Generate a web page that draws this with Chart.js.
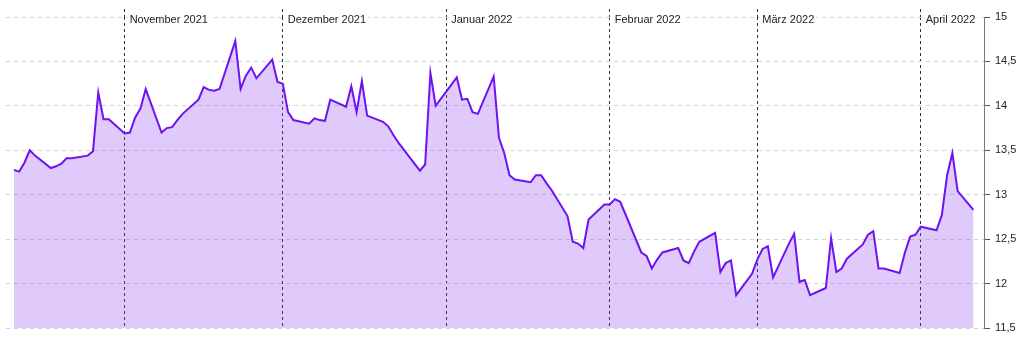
<!DOCTYPE html>
<html lang="de">
<head>
<meta charset="utf-8">
<title>Kursverlauf</title>
<script src="https://cdn.jsdelivr.net/npm/chart.js@4/dist/chart.umd.min.js"></script>
<style>
    html, body { margin: 0; padding: 0; background: #fff; }
    #wrap { width: 1024px; height: 351px; position: relative; }
</style>
</head>
<body>
<div id="wrap"><canvas id="priceChart"></canvas></div>
<script>
// Trading days (Oct 11 2021 - Apr 11 2022)
const tradeDates = [
    '2021-10-11', '2021-10-12', '2021-10-13', '2021-10-14', '2021-10-15',
    '2021-10-18', '2021-10-19', '2021-10-20', '2021-10-21', '2021-10-22',
    '2021-10-25', '2021-10-26', '2021-10-27', '2021-10-28', '2021-10-29',
    '2021-11-01', '2021-11-02', '2021-11-03', '2021-11-04', '2021-11-05',
    '2021-11-08', '2021-11-09', '2021-11-10', '2021-11-11', '2021-11-12',
    '2021-11-15', '2021-11-16', '2021-11-17', '2021-11-18', '2021-11-19',
    '2021-11-22', '2021-11-23', '2021-11-24', '2021-11-25', '2021-11-26',
    '2021-11-29', '2021-11-30', '2021-12-01', '2021-12-02', '2021-12-03',
    '2021-12-06', '2021-12-07', '2021-12-08', '2021-12-09', '2021-12-10',
    '2021-12-13', '2021-12-14', '2021-12-15', '2021-12-16', '2021-12-17',
    '2021-12-20', '2021-12-21', '2021-12-22', '2021-12-23',
    '2021-12-27', '2021-12-28', '2021-12-29', '2021-12-30',
    '2022-01-03', '2022-01-04', '2022-01-05', '2022-01-06', '2022-01-07',
    '2022-01-10', '2022-01-11', '2022-01-12', '2022-01-13', '2022-01-14',
    '2022-01-17', '2022-01-18', '2022-01-19', '2022-01-20', '2022-01-21',
    '2022-01-24', '2022-01-25', '2022-01-26', '2022-01-27', '2022-01-28',
    '2022-01-31', '2022-02-01', '2022-02-02', '2022-02-03', '2022-02-04',
    '2022-02-07', '2022-02-08', '2022-02-09', '2022-02-10', '2022-02-11',
    '2022-02-14', '2022-02-15', '2022-02-16', '2022-02-17', '2022-02-18',
    '2022-02-21', '2022-02-22', '2022-02-23', '2022-02-24', '2022-02-25',
    '2022-02-28', '2022-03-01', '2022-03-02', '2022-03-03', '2022-03-04',
    '2022-03-07', '2022-03-08', '2022-03-09', '2022-03-10', '2022-03-11',
    '2022-03-14', '2022-03-15', '2022-03-16', '2022-03-17', '2022-03-18',
    '2022-03-21', '2022-03-22', '2022-03-23', '2022-03-24', '2022-03-25',
    '2022-03-28', '2022-03-29', '2022-03-30', '2022-03-31', '2022-04-01',
    '2022-04-04', '2022-04-05', '2022-04-06', '2022-04-07', '2022-04-08',
    '2022-04-11'
];

// Closing prices
const closePrices = [
    13.28, 13.26, 13.36, 13.50, 13.44,
    13.30, 13.32, 13.35, 13.41, 13.41,
    13.44, 13.49, 14.15, 13.85, 13.85,
    13.69, 13.70, 13.87, 13.97, 14.19,
    13.70, 13.75, 13.76, 13.84, 13.91,
    14.07, 14.21, 14.18, 14.17, 14.19,
    14.73, 14.19, 14.34, 14.43, 14.31,
    14.52, 14.27, 14.25, 13.93, 13.84,
    13.80, 13.86, 13.84, 13.83, 14.07,
    13.99, 14.22, 13.93, 14.28, 13.89,
    13.82, 13.77, 13.67, 13.58,
    13.27, 13.34, 14.37, 14.00,
    14.32, 14.07, 14.08, 13.93, 13.91,
    14.33, 13.64, 13.47, 13.22, 13.17,
    13.14, 13.22, 13.22, 13.13, 13.05,
    12.76, 12.47, 12.45, 12.40, 12.72,
    12.89, 12.89, 12.95, 12.92, 12.78,
    12.35, 12.31, 12.17, 12.27, 12.35,
    12.40, 12.26, 12.23, 12.36, 12.47,
    12.57, 12.13, 12.23, 12.26, 11.87,
    12.11, 12.27, 12.39, 12.42, 12.07,
    12.45, 12.56, 12.02, 12.04, 11.87,
    11.95, 12.51, 12.13, 12.17, 12.28,
    12.44, 12.55, 12.59, 12.17, 12.17,
    12.12, 12.35, 12.53, 12.55, 12.64,
    12.60, 12.77, 13.22, 13.47, 13.04,
    12.83
];

// Month markers on the time axis
const monthStarts = ['2021-11-01', '2021-12-01', '2022-01-01', '2022-02-01', '2022-03-01', '2022-04-01'];
const monthLabels = ['November 2021', 'Dezember 2021', 'Januar 2022', 'Februar 2022', 'März 2022', 'April 2022'];

// Price axis
const yTicks = [11.5, 12, 12.5, 13, 13.5, 14, 14.5, 15];

// date string -> day number
function toDay(s) {
    const p = s.split('-');
    return Date.UTC(+p[0], +p[1] - 1, +p[2]) / 86400000;
}

const points = tradeDates.map((d, i) => ({ x: toDay(d), y: closePrices[i] }));
const monthDays = monthStarts.map(toDay);

Chart.defaults.font.family = 'Arial, "Liberation Sans", Helvetica, sans-serif';
Chart.defaults.font.size = 11;
Chart.defaults.color = '#222';

const ctx = document.getElementById('priceChart').getContext('2d');
new Chart(ctx, {
    type: 'line',
    data: {
        datasets: [{
            data: points,
            borderColor: '#6e12f2',
            backgroundColor: 'rgba(130, 50, 240, 0.26)',
            borderWidth: 2,
            pointRadius: 0,
            tension: 0,
            fill: 'start'
        }]
    },
    options: {
        responsive: true,
        maintainAspectRatio: false,
        animation: false,
        layout: {
            padding: { left: 6, right: 0, top: 0, bottom: 23 }
        },
        plugins: {
            legend: { display: false },
            tooltip: { enabled: false }
        },
        scales: {
            x: {
                type: 'linear',
                position: 'top',
                min: toDay(tradeDates[0]) - 1.5,
                max: toDay(tradeDates[tradeDates.length - 1]) + 2,
                afterBuildTicks: scale => {
                    scale.ticks = monthDays.map(v => ({ value: v }));
                },
                afterFit: scale => { scale.height = 17; },
                grid: {
                    color: '#333',
                    lineWidth: 1,
                    drawTicks: true,
                    tickLength: 8,
                    tickColor: '#333',
                    tickBorderDash: [3, 3]
                },
                border: { display: false, dash: [3, 3] },
                ticks: {
                    autoSkip: false,
                    maxRotation: 0,
                    mirror: true,
                    align: 'start',
                    labelOffset: 5,
                    padding: -4,
                    showLabelBackdrop: true,
                    backdropColor: '#fff',
                    backdropPadding: { left: 2, right: 2, top: 1, bottom: 1 },
                    color: '#222',
                    callback: (value, index) => monthLabels[index]
                }
            },
            y: {
                position: 'right',
                min: yTicks[0],
                max: yTicks[yTicks.length - 1],
                afterBuildTicks: scale => {
                    scale.ticks = yTicks.map(v => ({ value: v }));
                },
                afterFit: scale => { scale.width = 40; },
                grid: {
                    color: '#d4d4d4',
                    lineWidth: 1,
                    tickLength: 6,
                    tickColor: '#555'
                },
                border: { display: true, color: '#777', width: 1, dash: [4, 4] },
                ticks: {
                    padding: 5,
                    color: '#222',
                    callback: value => String(value).replace('.', ',')
                }
            }
        }
    }
});
</script>
</body>
</html>
